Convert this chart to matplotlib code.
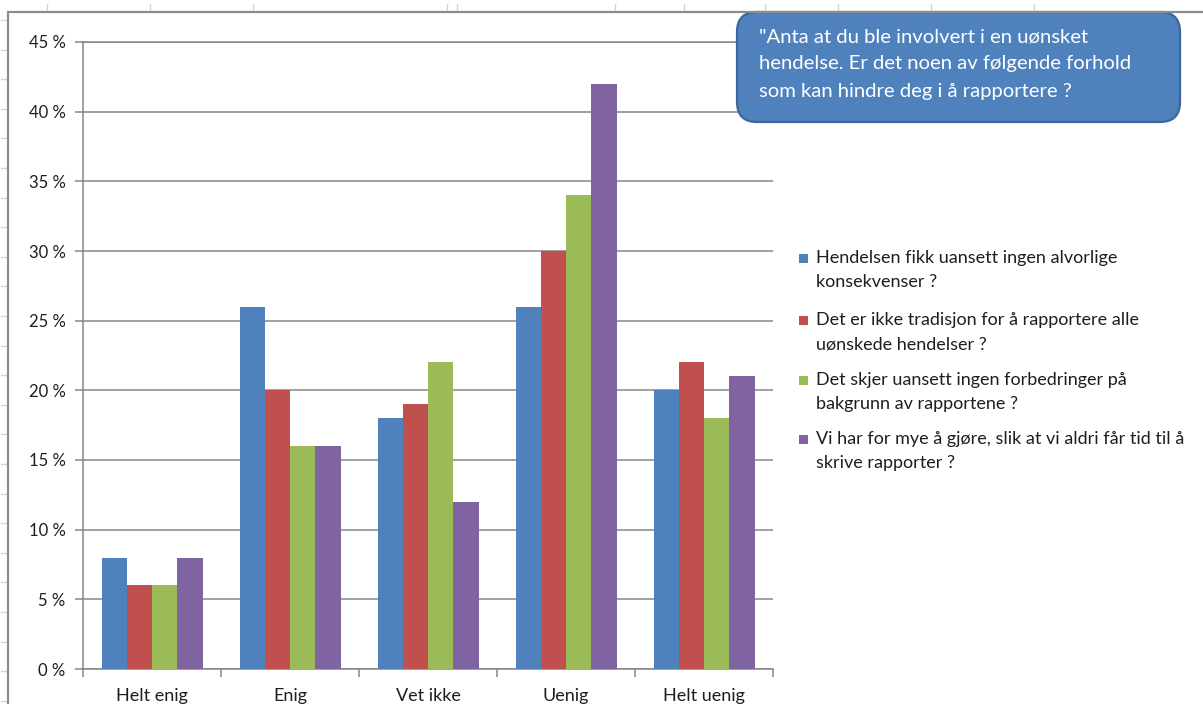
import matplotlib
matplotlib.use("Agg")
import matplotlib.pyplot as plt
import numpy as np
from matplotlib.patches import FancyBboxPatch, Rectangle
from matplotlib.lines import Line2D
from matplotlib.transforms import Affine2D
from matplotlib.ticker import FuncFormatter, FixedLocator

plt.rcParams['font.family'] = ['Lato', 'DejaVu Sans']

# Survey answers (percent of respondents)
categories = ["Helt enig", "Enig", "Vet ikke", "Uenig", "Helt uenig"]
series_labels = [
    "Hendelsen fikk uansett ingen alvorlige\nkonsekvenser ?",
    "Det er ikke tradisjon for å rapportere alle\nuønskede hendelser ?",
    "Det skjer uansett ingen forbedringer på\nbakgrunn av rapportene ?",
    "Vi har for mye å gjøre, slik at vi aldri får tid til å\nskrive rapporter ?",
]
ingen_konsekvenser = [8, 26, 18, 26, 20]
ikke_tradisjon = [6, 20, 19, 30, 22]
ingen_forbedringer = [6, 16, 22, 34, 18]
for_mye_aa_gjore = [8, 16, 12, 42, 21]
y_ticks = [0, 5, 10, 15, 20, 25, 30, 35, 40, 45]
question = [
    "\"Anta at du ble involvert i en uønsket",
    "hendelse. Er det noen av følgende forhold",
    "som kan hindre deg i å rapportere ?",
]

series = [ingen_konsekvenser, ikke_tradisjon, ingen_forbedringer, for_mye_aa_gjore]
colors = ["#4F81BD", "#C0504D", "#9BBB59", "#8064A2"]
axis_grey = "#868686"
text_col = "#1e1e1e"

W, H = 1203, 704
fig = plt.figure(figsize=(W / 100, H / 100), dpi=100)
fig.patch.set_facecolor("white")
# pixel coordinates measured from the top-left corner
px = Affine2D().scale(1, -1).translate(0, H)


def fx(p):
    return p / W


def fy(p):
    return 1 - p / H


# worksheet grid stubs and chart frame
for gx in [47, 150, 253, 447, 457, 615, 684, 765, 838, 931, 1034]:
    fig.add_artist(Line2D([gx, gx], [4, 11], transform=px, color="#d4d4d4", lw=1))
for gy in np.arange(20, 704, 29.6):
    fig.add_artist(Line2D([1, 7], [gy, gy], transform=px, color="#d4d4d4", lw=1))
fig.add_artist(Line2D([7.5, 7.5, W], [H, 11.5, 11.5], transform=px,
                      color="#8c8c8c", lw=1.6, solid_joinstyle="miter"))

ax = fig.add_axes([fx(83), fy(669), fx(773) - fx(83), fy(42) - fy(669)])
x = np.arange(len(categories))
n = len(series)
bw = 101 / 138 / n
for i, (vals, col) in enumerate(zip(series, colors)):
    ax.bar(x + (i - (n - 1) / 2) * bw, vals, width=bw, color=col, edgecolor="none",
           zorder=3)

ax.set_xlim(-0.5, len(categories) - 0.5)
ax.set_ylim(0, 45)
ax.yaxis.set_major_locator(FixedLocator(y_ticks))
ax.yaxis.set_major_formatter(FuncFormatter(lambda v, p: f"{v:.0f} %"))
ax.yaxis.grid(True, color=axis_grey, lw=1.1, zorder=0)
ax.set_axisbelow(True)
ax.tick_params(axis="y", direction="out", length=5.5, width=1.1, color=axis_grey,
               pad=7, labelsize=12, labelcolor=text_col)

ax.set_xticks(x)
ax.set_xticklabels(categories)
ax.set_xticks(np.arange(-0.5, len(categories)), minor=True)
ax.tick_params(axis="x", which="major", length=0, pad=14, labelsize=13,
               labelcolor=text_col)
ax.tick_params(axis="x", which="minor", direction="out", length=6, width=1.1,
               color=axis_grey)

for side in ["right"]:
    ax.spines[side].set_visible(False)
for side in ["left", "bottom", "top"]:
    ax.spines[side].set_color(axis_grey)
    ax.spines[side].set_linewidth(1.1)

# question callout
fig.add_artist(FancyBboxPatch((737, 12), 443, 110,
                              boxstyle="round,pad=0,rounding_size=20",
                              transform=px, fc="#4F81BD", ec="#3B679C", lw=1.6))
for k, line in enumerate(question):
    fig.text(759, 37 + 27 * k, line, transform=px, color="white",
             fontsize=14.6, va="center", ha="left")

# legend
leg_y = [258, 320, 380, 439]
for yy, lab, col in zip(leg_y, series_labels, colors):
    fig.add_artist(Rectangle((799, yy - 4.5), 9, 9, transform=px, fc=col, ec="none"))
    l1, l2 = lab.split("\n")
    fig.text(816, yy, l1, transform=px, color=text_col, fontsize=13, va="center")
    fig.text(816, yy + 24, l2, transform=px, color=text_col, fontsize=13,
             va="center")

fig.savefig("out.png", dpi=100)
